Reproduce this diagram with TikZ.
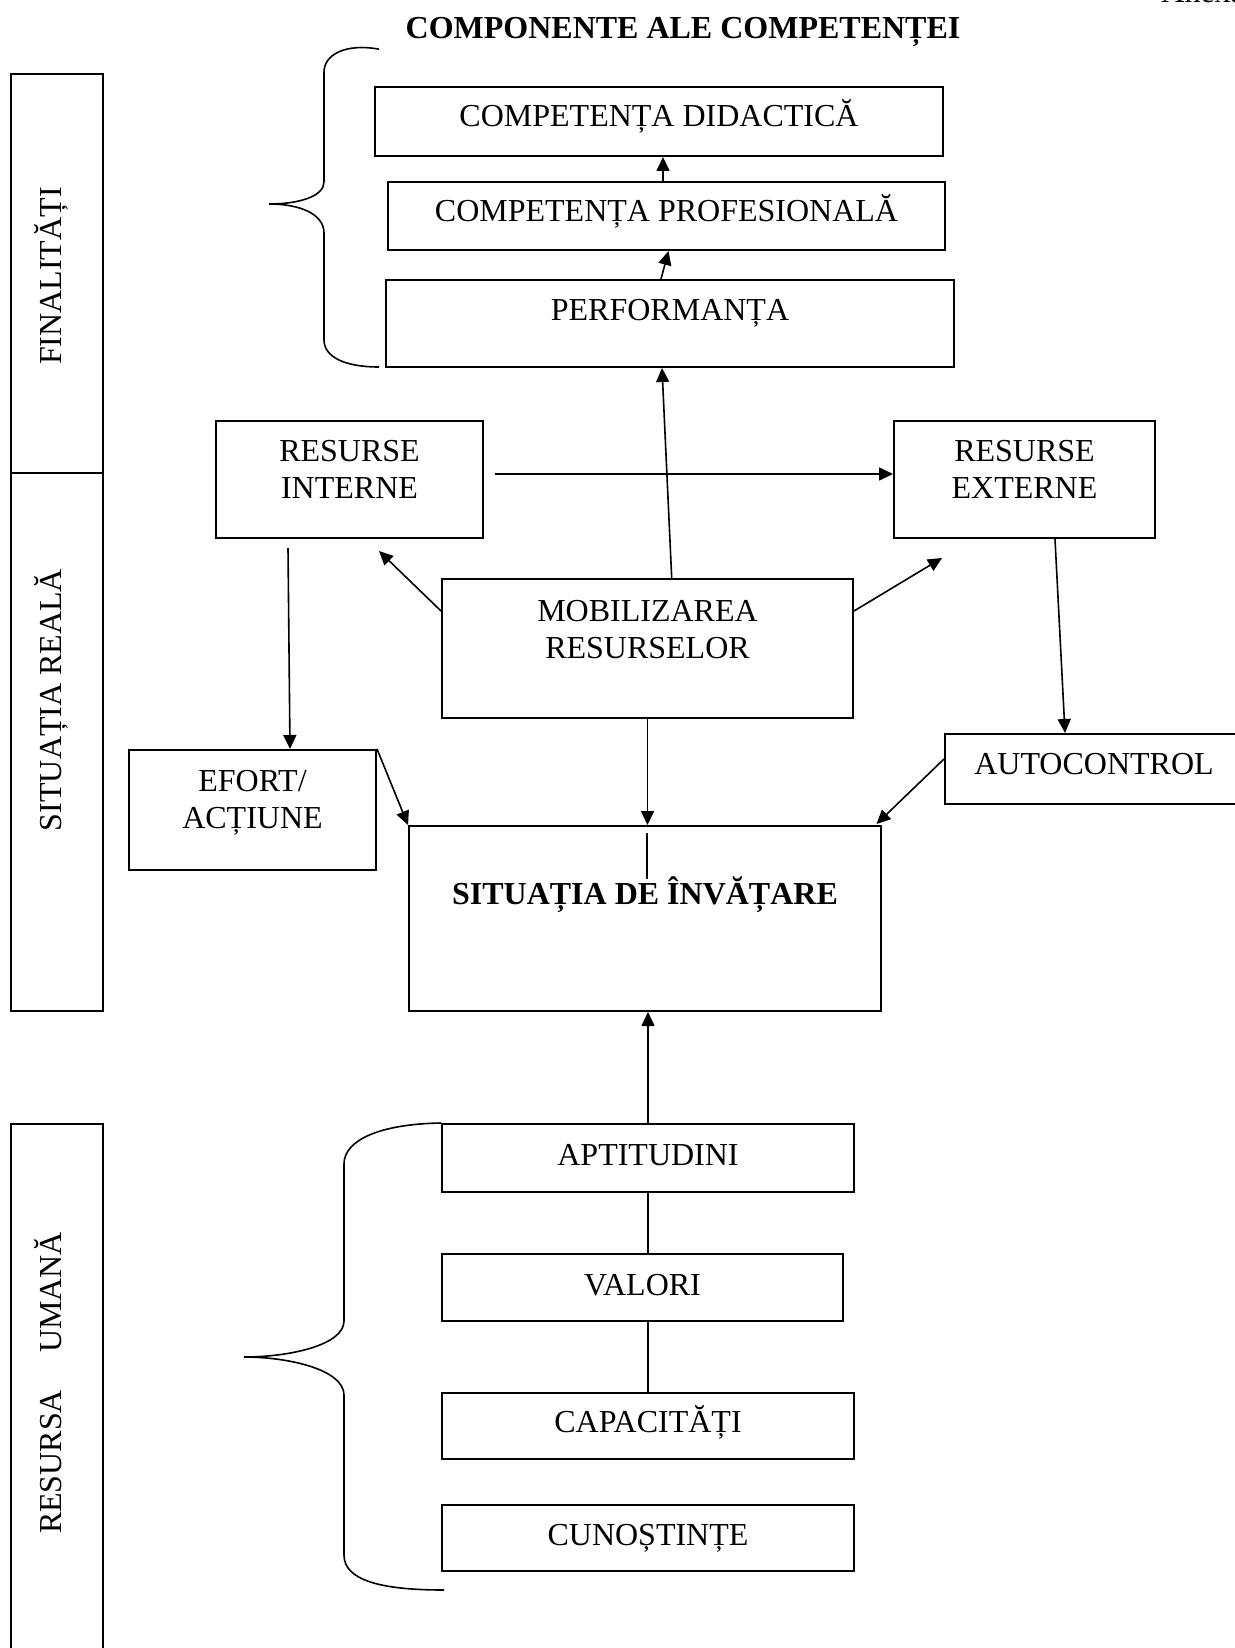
\documentclass[tikz,border=0pt]{standalone}
\usepackage{fontspec}
\setmainfont{Liberation Serif}
\usetikzlibrary{arrows.meta,fit,calc}
% rectangle node spanning two corner points
\newcommand\mkbox[5]{%
  \path (#2,#3) coordinate (#1-a) (#4,#5) coordinate (#1-b);
  \node[frame,fit=(#1-a)(#1-b)] (#1) {};}
\begin{document}
\begin{tikzpicture}[x=0.5pt,y=-0.5pt,
  frame/.style={draw,line width=1pt,inner sep=0pt},
  lbl/.style={anchor=base,inner sep=0pt,font=\fontsize{16}{19}\selectfont},
  blbl/.style={lbl,font=\fontsize{16}{19}\selectfont\bfseries},
  side/.style={lbl,rotate=90},
  arr/.style={line width=0.8pt,-{Triangle[length=7pt,width=6.5pt]}},
  link/.style={line width=0.8pt},
  brace/.style={line width=0.8pt}]
\useasboundingbox (0,0) rectangle (1235,1648);
\clip (0,0) rectangle (1235,1648);
\fill[white] (0,0) rectangle (1235,1648);

% page header and title
\node[lbl,anchor=base west] (anx) at (1161,2.5) {Anexa};
\node[blbl] (title) at (683,38.6) {COMPONENTE ALE COMPETENȚEI};

% side bands
\mkbox{fin}{11}{74}{103}{473}
\mkbox{sitr}{11}{473}{103}{1011}
\mkbox{um}{11}{1124}{103}{1700}
\node[side] (fin-t) at (61.5,276) {FINALITĂȚI};
\node[side] (sitr-t) at (61.5,700) {SITUAȚIA REALĂ};
\node[side] (um-t) at (61.5,1383) {RESURSA\hspace{18.5pt}UMANĂ};

% outcomes
\mkbox{did}{375}{87}{943}{156}
\mkbox{prof}{388}{182}{945}{250}
\mkbox{perf}{386}{280}{954}{367}
\node[lbl] (did-t) at (659,126.2) {COMPETENȚA DIDACTICĂ};
\node[lbl] (prof-t) at (666.5,221.6) {COMPETENȚA PROFESIONALĂ};
\node[lbl] (perf-t) at (670,320.6) {PERFORMANȚA};

% real situation
\mkbox{rint}{216}{421}{483}{538}
\mkbox{rext}{894}{421}{1155}{538}
\mkbox{mob}{442}{579}{853}{718}
\mkbox{efort}{129}{750}{376}{870}
\mkbox{auto}{945}{734}{1240}{804}
\mkbox{sit}{409}{826}{881}{1011}
\node[lbl] (rint-t1) at (349.5,461.6) {RESURSE};
\node[lbl] (rint-t2) at (349.5,498.6) {INTERNE};
\node[lbl] (rext-t1) at (1024.5,461.6) {RESURSE};
\node[lbl] (rext-t2) at (1024.5,498.6) {EXTERNE};
\node[lbl] (mob-t1) at (647.5,621.3) {MOBILIZAREA};
\node[lbl] (mob-t2) at (647.5,658.1) {RESURSELOR};
\node[lbl] (efort-t1) at (252.5,791.6) {EFORT/};
\node[lbl] (efort-t2) at (252.5,828.6) {ACȚIUNE};
\node[lbl] (auto-t) at (1094,774.6) {AUTOCONTROL};
\node[blbl] (sit-t) at (645,904.1) {SITUAȚIA DE ÎNVĂȚARE};

% human resource
\mkbox{apt}{442}{1124}{854}{1192}
\mkbox{val}{442}{1254}{843}{1321}
\mkbox{cap}{442}{1393}{854}{1459}
\mkbox{cun}{442}{1505}{854}{1571}
\node[lbl] (apt-t) at (648,1165.6) {APTITUDINI};
\node[lbl] (val-t) at (642.5,1295.1) {VALORI};
\node[lbl] (cap-t) at (648,1432.6) {CAPACITĂȚI};
\node[lbl] (cun-t) at (648,1545.2) {CUNOȘTINȚE};

% braces
\draw[brace] (did-a |- title.south) ++(4,2) coordinate (b1s)
  .. controls (345,43) and (324,55) .. (324,72) -- (324,182)
  .. controls (324,196) and (300,204) .. (269,204) coordinate (b1tip)
  .. controls (300,204) and (324,214) .. (324,233) -- (324,340)
  .. controls (324,357) and (345,367) .. (379,367) coordinate (b1e);
\draw[brace] (apt.north west) coordinate (b2s)
  .. controls (380,1124) and (344,1140) .. (344,1164) -- (344,1321)
  .. controls (344,1345) and (290,1357) .. (244,1357) coordinate (b2tip)
  .. controls (290,1357) and (344,1370) .. (344,1395) -- (344,1555)
  .. controls (344,1580) and (380,1590) .. (444,1590) coordinate (b2e);

% connectors
\coordinate (p1) at ($(prof.north west)+(276,0)$);
\draw[arr] (p1) -- (p1 |- did.south);
\draw[arr] ($(perf.north west)+(276,0)$) -- ($(prof.south west)+(281.5,0)$);
\draw[arr] ($(mob.north west)+(230.7,0)$) -- ($(perf.south west)+(277,0)$);
\coordinate (p2) at ($(rint.north east)+(11,54)$);
\draw[arr] (p2) -- (p2 -| rext.west);
\draw[arr] ($(mob.north west)+(0,33)$) -- ($(rint.south west)+(164,12)$);
\draw[arr] ($(mob.north east)+(0,33)$) -- ($(rext.south west)+(49,19)$);
\draw[arr] ($(rint.south west)+(73,9)$) -- ($(efort.north west)+(162,0)$);
\draw[arr] ($(rext.south west)+(162,0)$) -- ($(auto.north west)+(121,0)$);
\draw[arr] (efort.north east) -- (sit.north west);
\draw[arr] (mob.south) -- (mob.south |- sit.north);
\draw[link] ($(sit.north west)+(239,8)$) -- ($(sit.north west)+(239,54)$);
\draw[arr] ($(auto.north west)+(0,26)$) -- ($(sit.north east)+(-5.5,-1)$);
\draw[arr] (apt.north) -- (apt.north |- sit.south);
\draw[link] (apt.south) -- (apt.south |- val.north);
\draw[link] (apt.south |- val.south) -- (apt.south |- cap.north);
\end{tikzpicture}
\end{document}
